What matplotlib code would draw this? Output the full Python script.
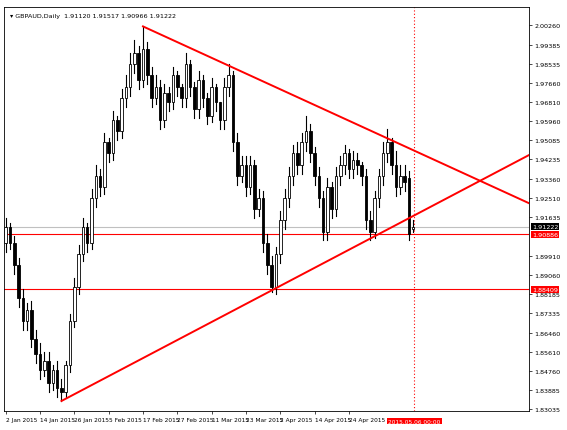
import matplotlib
matplotlib.use('Agg')
import matplotlib.pyplot as plt

# daily GBPAUD candles
opens = [1.905, 1.912, 1.905, 1.895, 1.880, 1.870, 1.875, 1.862, 1.855, 1.848, 1.852, 1.842, 1.848, 1.840,
         1.838, 1.850, 1.870, 1.885, 1.900, 1.912, 1.905, 1.925, 1.935, 1.930, 1.950, 1.945, 1.960, 1.955,
         1.970, 1.975, 1.985, 1.990, 1.978, 1.992, 1.980, 1.970, 1.975, 1.960, 1.972, 1.968, 1.980, 1.975,
         1.970, 1.985, 1.975, 1.965, 1.978, 1.970, 1.962, 1.975, 1.968, 1.960, 1.975, 1.980, 1.950, 1.935,
         1.940, 1.930, 1.940, 1.920, 1.925, 1.905, 1.895, 1.885, 1.900, 1.915, 1.925, 1.935, 1.945, 1.940,
         1.950, 1.955, 1.945, 1.935, 1.925, 1.910, 1.930, 1.920, 1.935, 1.940, 1.945, 1.938, 1.942, 1.940,
         1.935, 1.915, 1.910, 1.925, 1.935, 1.945, 1.950, 1.940, 1.930, 1.935, 1.934, 1.9112]
closes = [1.912, 1.905, 1.895, 1.880, 1.870, 1.875, 1.862, 1.855, 1.848, 1.852, 1.842, 1.848, 1.840, 1.838,
          1.850, 1.870, 1.885, 1.900, 1.912, 1.905, 1.925, 1.935, 1.930, 1.950, 1.945, 1.960, 1.955, 1.970,
          1.975, 1.985, 1.990, 1.978, 1.992, 1.980, 1.970, 1.975, 1.960, 1.972, 1.968, 1.980, 1.975, 1.970,
          1.985, 1.975, 1.965, 1.978, 1.970, 1.962, 1.975, 1.968, 1.960, 1.975, 1.980, 1.950, 1.935, 1.940,
          1.930, 1.940, 1.920, 1.925, 1.905, 1.895, 1.885, 1.900, 1.915, 1.925, 1.935, 1.945, 1.940, 1.950,
          1.955, 1.945, 1.935, 1.925, 1.910, 1.930, 1.920, 1.935, 1.940, 1.945, 1.938, 1.942, 1.940, 1.935,
          1.915, 1.910, 1.925, 1.935, 1.945, 1.950, 1.940, 1.930, 1.935, 1.932, 1.909, 1.91222]
highs = [1.916, 1.914, 1.908, 1.898, 1.884, 1.878, 1.879, 1.866, 1.860, 1.856, 1.856, 1.850, 1.852, 1.844,
         1.852, 1.873, 1.889, 1.904, 1.916, 1.914, 1.929, 1.940, 1.938, 1.954, 1.952, 1.964, 1.962, 1.974,
         1.980, 1.990, 1.996, 1.993, 2.002, 1.995, 1.984, 1.980, 1.978, 1.976, 1.975, 1.984, 1.982, 1.976,
         1.990, 1.987, 1.977, 1.982, 1.980, 1.972, 1.979, 1.976, 1.968, 1.979, 1.985, 1.982, 1.954, 1.944,
         1.944, 1.944, 1.942, 1.929, 1.928, 1.909, 1.899, 1.903, 1.919, 1.929, 1.939, 1.949, 1.950, 1.954,
         1.962, 1.958, 1.948, 1.939, 1.928, 1.934, 1.932, 1.939, 1.944, 1.949, 1.947, 1.946, 1.945, 1.941,
         1.938, 1.919, 1.928, 1.938, 1.950, 1.956, 1.952, 1.946, 1.940, 1.940, 1.937, 1.9152]
lows = [1.901, 1.902, 1.891, 1.876, 1.866, 1.866, 1.858, 1.851, 1.844, 1.845, 1.838, 1.839, 1.836, 1.834,
        1.836, 1.847, 1.867, 1.882, 1.897, 1.901, 1.902, 1.921, 1.926, 1.927, 1.941, 1.942, 1.951, 1.952,
        1.966, 1.971, 1.981, 1.974, 1.975, 1.976, 1.966, 1.967, 1.956, 1.957, 1.964, 1.965, 1.971, 1.966,
        1.966, 1.971, 1.961, 1.961, 1.966, 1.958, 1.959, 1.964, 1.956, 1.956, 1.971, 1.946, 1.931, 1.932,
        1.926, 1.927, 1.916, 1.917, 1.901, 1.891, 1.883, 1.882, 1.896, 1.911, 1.921, 1.931, 1.936, 1.936,
        1.946, 1.941, 1.931, 1.921, 1.906, 1.906, 1.916, 1.917, 1.931, 1.936, 1.934, 1.934, 1.936, 1.931,
        1.911, 1.906, 1.907, 1.921, 1.931, 1.941, 1.936, 1.926, 1.927, 1.928, 1.906, 1.9097]

date_labels = ['2 Jan 2015', '14 Jan 2015', '26 Jan 2015', '5 Feb 2015', '17 Feb 2015', '27 Feb 2015',
               '11 Mar 2015', '23 Mar 2015', '2 Apr 2015', '14 Apr 2015', '24 Apr 2015']
price_ticks = [2.00260, 1.99385, 1.98535, 1.97660, 1.96810, 1.95960, 1.95085, 1.94235, 1.93360, 1.92510,
               1.91635, 1.89910, 1.89060, 1.88185, 1.87335, 1.86460, 1.85610, 1.84760, 1.83885, 1.83035]

upper_line = ([32, 122], [2.0020, 1.9227])
lower_line = ([13, 122], [1.8340, 1.9443])
support_levels = [1.90886, 1.88409]
bid = 1.91222

fig = plt.figure(figsize=(5.67, 4.31), dpi=100)
ax = fig.add_axes([4 / 567, 19 / 431, 525 / 567, 404 / 431])
ax.set_xlim(-0.4, 122)
ax.set_ylim(1.8295, 2.0107)

for i in range(len(closes)):
    o, c, h, l = opens[i], closes[i], highs[i], lows[i]
    ax.plot([i, i], [l, h], color='black', lw=0.8, zorder=2)
    face = 'white' if c >= o else 'black'
    bot, height = min(o, c), max(abs(c - o), 0.0004)
    ax.add_patch(plt.Rectangle((i - 0.3, bot), 0.6, height, facecolor=face,
                               edgecolor='black', lw=0.6, zorder=3))

ax.plot(*upper_line, color='red', lw=1.4, zorder=4)
ax.plot(*lower_line, color='red', lw=1.4, zorder=4)
for lev in support_levels:
    ax.axhline(lev, color='red', lw=0.8, zorder=1)
ax.axhline(bid, color='#c0c0c0', lw=0.8, zorder=1)
ax.axvline(95.3, color='red', lw=0.8, ls=(0, (1, 2)), zorder=1)

ax.yaxis.tick_right()
ax.set_yticks(price_ticks)
ax.set_yticklabels(['%.5f' % p for p in price_ticks], fontsize=4.6)
ax.set_xticks(range(0, 88, 8))
ax.set_xticklabels(date_labels, fontsize=4.2, ha='left')
ax.tick_params(length=2, width=0.5, pad=2)
for s in ax.spines.values():
    s.set_linewidth(0.6)

box = dict(boxstyle='square,pad=0.15', lw=0)
ax.text(1.006, bid, '%.5f' % bid, transform=ax.get_yaxis_transform(), fontsize=4.6, color='white',
        va='center', bbox=dict(box, fc='black'))
for lev in support_levels:
    ax.text(1.006, lev, '%.5f' % lev, transform=ax.get_yaxis_transform(), fontsize=4.6, color='white',
            va='center', bbox=dict(box, fc='red'))
ax.text(95.3, -0.025, '2015.05.06 00:00', transform=ax.get_xaxis_transform(), fontsize=4.2,
        color='white', ha='center', va='center', bbox=dict(box, fc='red'))
ax.text(0.012, 0.985, '\u25BE GBPAUD,Daily  1.91120 1.91517 1.90966 1.91222',
        transform=ax.transAxes, fontsize=4.6, va='top')

fig.savefig('out.png', dpi=100)
